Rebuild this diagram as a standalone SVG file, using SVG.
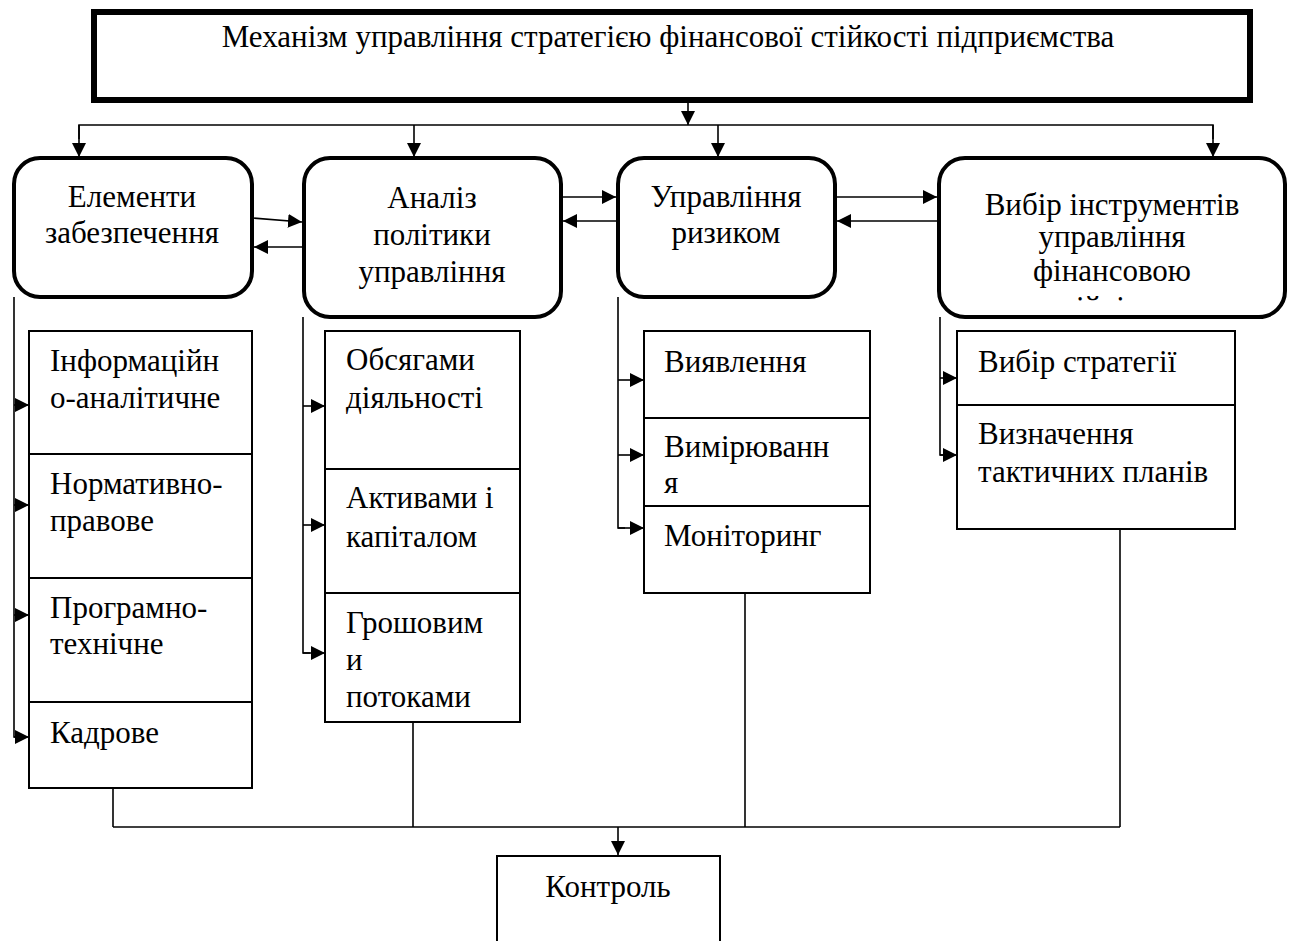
<svg xmlns="http://www.w3.org/2000/svg" width="1295" height="941" viewBox="0 0 1295 941">
<style>
text{font-family:"Liberation Serif","Times New Roman",serif;font-size:31px;fill:#000}
.c{text-anchor:middle}
.rb{fill:#fff;stroke:#000;stroke-width:4}
.sb{fill:#fff;stroke:#000;stroke-width:2}
.ln{fill:none;stroke:#000;stroke-width:1.6}
.ar{fill:none;stroke:#000;stroke-width:1.6;marker-end:url(#ah)}
</style>
<defs>
<marker id="ah" markerUnits="userSpaceOnUse" markerWidth="14" markerHeight="14" refX="14" refY="7" orient="auto"><path d="M0,0 L14,7 L0,14 z" fill="#000"/></marker>
<clipPath id="clip4"><rect x="945" y="160" width="335" height="141"/></clipPath>
</defs>
<rect width="1295" height="941" fill="#fff"/>
<g id="connectors">
<line class="ar" x1="688" y1="103" x2="688" y2="125"/>
<polyline class="ln" points="79,139 79,125 1213,125 1213,139"/>
<line class="ar" x1="79" y1="125" x2="79" y2="157"/>
<line class="ar" x1="414" y1="125" x2="414" y2="157"/>
<line class="ar" x1="718" y1="125" x2="718" y2="157"/>
<line class="ar" x1="1213" y1="125" x2="1213" y2="157"/>
<line class="ar" x1="252" y1="218" x2="302" y2="222"/>
<line class="ar" x1="302" y1="247" x2="254" y2="247"/>
<line class="ar" x1="563" y1="197" x2="616" y2="197"/>
<line class="ar" x1="616" y1="221" x2="563" y2="221"/>
<line class="ar" x1="837" y1="197" x2="937" y2="197"/>
<line class="ar" x1="937" y1="221" x2="837" y2="221"/>
<polyline class="ln" points="14,297 14,737 20,737"/>
<line class="ar" x1="14" y1="405" x2="29" y2="405"/>
<line class="ar" x1="14" y1="505" x2="29" y2="505"/>
<line class="ar" x1="14" y1="615" x2="29" y2="615"/>
<line class="ar" x1="14" y1="737" x2="29" y2="737"/>
<polyline class="ln" points="303,317 303,653 310,653"/>
<line class="ar" x1="303" y1="406" x2="325" y2="406"/>
<line class="ar" x1="303" y1="525" x2="325" y2="525"/>
<line class="ar" x1="303" y1="653" x2="325" y2="653"/>
<polyline class="ln" points="618,297 618,528 625,528"/>
<line class="ar" x1="618" y1="380" x2="644" y2="380"/>
<line class="ar" x1="618" y1="455" x2="644" y2="455"/>
<line class="ar" x1="618" y1="528" x2="644" y2="528"/>
<polyline class="ln" points="940,317 940,455 945,455"/>
<line class="ar" x1="940" y1="378" x2="957" y2="378"/>
<line class="ar" x1="940" y1="455" x2="957" y2="455"/>
<line class="ln" x1="113" y1="788" x2="113" y2="827"/>
<line class="ln" x1="413" y1="722" x2="413" y2="827"/>
<line class="ln" x1="745" y1="593" x2="745" y2="827"/>
<line class="ln" x1="1120" y1="529" x2="1120" y2="827"/>
<line class="ln" x1="113" y1="827" x2="1120" y2="827"/>
<line class="ar" x1="618" y1="827" x2="618" y2="855"/>
</g>
<g id="title">
<rect x="94" y="12" width="1156" height="88" fill="#fff" stroke="#000" stroke-width="6"/>
<text class="c" x="668" y="47">Механізм управління стратегією фінансової стійкості підприємства</text>
</g>
<g id="elements">
<rect class="rb" x="14" y="158" width="238" height="139" rx="26"/>
<text class="c" x="132" y="207">Елементи</text>
<text class="c" x="132" y="243">забезпечення</text>
</g>
<g id="analysis">
<rect class="rb" x="304" y="158" width="257" height="159" rx="26"/>
<text class="c" x="432" y="208">Аналіз</text>
<text class="c" x="432" y="245">політики</text>
<text class="c" x="432" y="282">управління</text>
</g>
<g id="risk">
<rect class="rb" x="618" y="158" width="217" height="139" rx="26"/>
<text class="c" x="726" y="207">Управління</text>
<text class="c" x="726" y="243">ризиком</text>
</g>
<g id="tools">
<rect class="rb" x="939" y="158" width="346" height="159" rx="26"/>
<text class="c" x="1112" y="215">Вибір інструментів</text>
<text class="c" x="1112" y="247">управління</text>
<text class="c" x="1112" y="281">фінансовою</text>
<text class="c" x="1112" y="318" clip-path="url(#clip4)">стійкістю</text>
</g>
<g id="support-items">
<rect class="sb" x="29" y="331" width="223" height="123"/>
<rect class="sb" x="29" y="454" width="223" height="124"/>
<rect class="sb" x="29" y="578" width="223" height="124"/>
<rect class="sb" x="29" y="702" width="223" height="86"/>
<text x="50" y="371">Інформаційн</text>
<text x="50" y="408">о-аналітичне</text>
<text x="50" y="494">Нормативно-</text>
<text x="50" y="531">правове</text>
<text x="50" y="618">Програмно-</text>
<text x="50" y="654">технічне</text>
<text x="50" y="743">Кадрове</text>
</g>
<g id="policy-items">
<rect class="sb" x="325" y="331" width="195" height="138"/>
<rect class="sb" x="325" y="469" width="195" height="124"/>
<rect class="sb" x="325" y="593" width="195" height="129"/>
<text x="346" y="370">Обсягами</text>
<text x="346" y="408">діяльності</text>
<text x="346" y="508">Активами і</text>
<text x="346" y="547">капіталом</text>
<text x="346" y="633">Грошовим</text>
<text x="346" y="670">и</text>
<text x="346" y="707">потоками</text>
</g>
<g id="risk-items">
<rect class="sb" x="644" y="331" width="226" height="87"/>
<rect class="sb" x="644" y="418" width="226" height="88"/>
<rect class="sb" x="644" y="506" width="226" height="87"/>
<text x="664" y="372">Виявлення</text>
<text x="664" y="457">Вимірюванн</text>
<text x="664" y="493">я</text>
<text x="664" y="546">Моніторинг</text>
</g>
<g id="tools-items">
<rect class="sb" x="957" y="331" width="278" height="74"/>
<rect class="sb" x="957" y="405" width="278" height="124"/>
<text x="978" y="372">Вибір стратегії</text>
<text x="978" y="444">Визначення</text>
<text x="978" y="482">тактичних планів</text>
</g>
<g id="control">
<path class="sb" d="M497,945 V856 H720 V945"/>
<text class="c" x="608" y="897">Контроль</text>
</g>
</svg>
